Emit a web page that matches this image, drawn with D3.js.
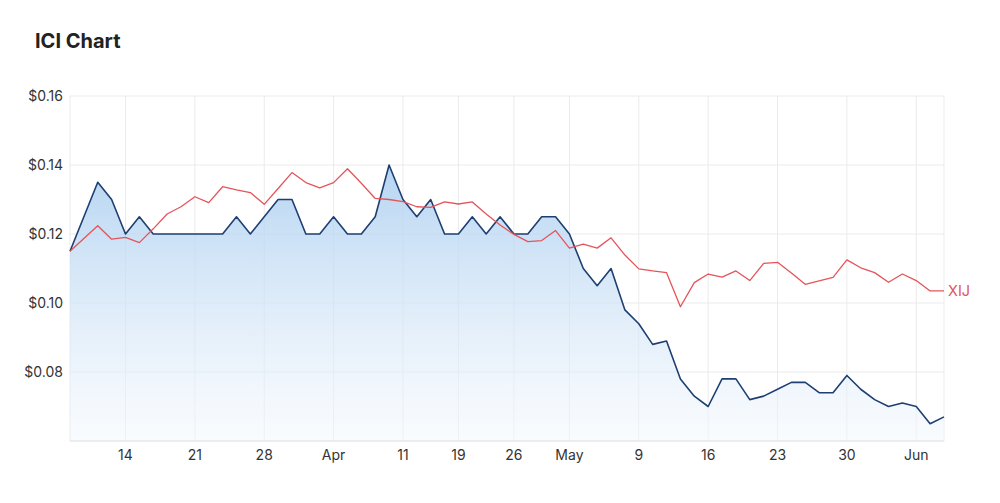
<!DOCTYPE html>
<html>
<head>
<meta charset="utf-8">
<script src="https://cdn.jsdelivr.net/npm/d3@7"></script>
<style>
  body { margin: 0; background: #fff; font-family: Inter, "Noto Sans", sans-serif; }
</style>
</head>
<body>
<div id="chart-area"></div>
<script>
// trading days, Mar 8 - Jun 8 2022
var dates = [
  "2022-03-08","2022-03-09","2022-03-10","2022-03-11",
  "2022-03-14","2022-03-15","2022-03-16","2022-03-17","2022-03-18",
  "2022-03-21","2022-03-22","2022-03-23","2022-03-24","2022-03-25",
  "2022-03-28","2022-03-29","2022-03-30","2022-03-31","2022-04-01",
  "2022-04-04","2022-04-05","2022-04-06","2022-04-07","2022-04-08",
  "2022-04-11","2022-04-12","2022-04-13","2022-04-14",
  "2022-04-19","2022-04-20","2022-04-21","2022-04-22",
  "2022-04-26","2022-04-27","2022-04-28","2022-04-29",
  "2022-05-02","2022-05-03","2022-05-04","2022-05-05","2022-05-06",
  "2022-05-09","2022-05-10","2022-05-11","2022-05-12","2022-05-13",
  "2022-05-16","2022-05-17","2022-05-18","2022-05-19","2022-05-20",
  "2022-05-23","2022-05-24","2022-05-25","2022-05-26","2022-05-27",
  "2022-05-30","2022-05-31","2022-06-01","2022-06-02","2022-06-03",
  "2022-06-06","2022-06-07","2022-06-08"
];

var iciPrices = [
  0.115, 0.125, 0.135, 0.13,
  0.12, 0.125, 0.12, 0.12, 0.12,
  0.12, 0.12, 0.12, 0.125, 0.12,
  0.125, 0.13, 0.13, 0.12, 0.12,
  0.125, 0.12, 0.12, 0.125, 0.14,
  0.13, 0.125, 0.13, 0.12,
  0.12, 0.125, 0.12, 0.125,
  0.12, 0.12, 0.125, 0.125,
  0.12, 0.11, 0.105, 0.11, 0.098,
  0.094, 0.088, 0.089, 0.078, 0.073,
  0.070, 0.078, 0.078, 0.072, 0.073,
  0.075, 0.077, 0.077, 0.074, 0.074,
  0.079, 0.075, 0.072, 0.070, 0.071,
  0.070, 0.065, 0.067
];

var xijPrices = [
  0.115, 0.1187, 0.1224, 0.1185,
  0.119, 0.1175, 0.1215, 0.1258, 0.1279,
  0.1308, 0.1291, 0.1337, 0.1328, 0.1320,
  0.1286, 0.1332, 0.1378, 0.1349, 0.1334,
  0.1349, 0.1389, 0.1347, 0.1303, 0.1300,
  0.1294, 0.1279, 0.1277, 0.1293,
  0.1287, 0.1293, 0.1258, 0.1226,
  0.1199, 0.1178, 0.1181, 0.1210,
  0.1159, 0.1171, 0.1159, 0.1189, 0.1139,
  0.1099, 0.1093, 0.1088, 0.0989, 0.1059,
  0.1084, 0.1075, 0.1093, 0.1065, 0.1115,
  0.1118, 0.1087, 0.1054, 0.1064, 0.1074,
  0.1125, 0.1102, 0.1088, 0.1060, 0.1084,
  0.1065, 0.1035, 0.1035
];

var tickDates = ["2022-03-14","2022-03-21","2022-03-28","2022-04-04","2022-04-11","2022-04-19",
                 "2022-04-26","2022-05-02","2022-05-09","2022-05-16","2022-05-23","2022-05-30","2022-06-06"];
var tickLabels = ["14","21","28","Apr","11","19","26","May","9","16","23","30","Jun"];
var yTicks = [0.08, 0.10, 0.12, 0.14, 0.16];

var width = 1000;
var height = 503;
var plot = {left: 70, right: 944, top: 96, bottom: 441};

var svg = d3.select("#chart-area")
  .append("svg")
  .attr("width", width)
  .attr("height", height);

var x = d3.scalePoint()
  .domain(dates)
  .range([plot.left, plot.right]);

var y = d3.scaleLinear()
  .domain([0.06, 0.16])
  .range([plot.bottom, plot.top]);

var defs = svg.append("defs");
var grad = defs.append("linearGradient")
  .attr("id", "areaGrad")
  .attr("x1", 0).attr("y1", 0)
  .attr("x2", 0).attr("y2", 1);
grad.append("stop").attr("offset", "0%").attr("stop-color", "#a9cdef").attr("stop-opacity", 0.85);
grad.append("stop").attr("offset", "100%").attr("stop-color", "#f3f8fd").attr("stop-opacity", 0.5);

// gridlines
svg.append("g")
  .selectAll("line")
  .data(yTicks)
  .enter().append("line")
  .attr("x1", plot.left).attr("x2", plot.right)
  .attr("y1", (d) => y(d)).attr("y2", (d) => y(d))
  .attr("stroke", "#ebebeb");

svg.append("g")
  .selectAll("line")
  .data([dates[0]].concat(tickDates, [dates[dates.length - 1]]))
  .enter().append("line")
  .attr("x1", (d) => x(d)).attr("x2", (d) => x(d))
  .attr("y1", plot.top).attr("y2", plot.bottom)
  .attr("stroke", "#ebebeb");

var iciData = dates.map((d, i) => ({date: d, value: iciPrices[i]}));
var xijData = dates.map((d, i) => ({date: d, value: xijPrices[i]}));

var area = d3.area()
  .x((d) => x(d.date))
  .y0(plot.bottom)
  .y1((d) => y(d.value));

var line = d3.line()
  .x((d) => x(d.date))
  .y((d) => y(d.value));

svg.append("path")
  .datum(iciData)
  .attr("d", area)
  .attr("fill", "url(#areaGrad)");

svg.append("path")
  .datum(iciData)
  .attr("d", line)
  .attr("fill", "none")
  .attr("stroke", "#1d3f72")
  .attr("stroke-width", 1.6)
  .attr("stroke-linejoin", "round");

svg.append("path")
  .datum(xijData)
  .attr("d", line)
  .attr("fill", "none")
  .attr("stroke", "#e4545a")
  .attr("stroke-width", 1.3)
  .attr("stroke-linejoin", "round");

svg.append("text")
  .attr("x", plot.right + 4)
  .attr("y", y(xijPrices[xijPrices.length - 1]))
  .attr("dy", "0.35em")
  .attr("font-size", "14.5px")
  .attr("fill", "#e4545a")
  .text("XIJ");

// x axis
svg.append("line")
  .attr("x1", plot.left).attr("x2", plot.right)
  .attr("y1", plot.bottom).attr("y2", plot.bottom)
  .attr("stroke", "#dcdcdc");

svg.append("g")
  .selectAll("text")
  .data(tickDates)
  .enter().append("text")
  .attr("x", (d) => x(d))
  .attr("y", 460)
  .attr("text-anchor", "middle")
  .attr("font-size", "14px")
  .attr("fill", "#333")
  .text((d, i) => tickLabels[i]);

// y axis labels
svg.append("g")
  .selectAll("text")
  .data(yTicks)
  .enter().append("text")
  .attr("x", 63)
  .attr("y", (d) => y(d))
  .attr("dy", "0.35em")
  .attr("text-anchor", "end")
  .attr("font-size", "14px")
  .attr("fill", "#333")
  .text((d) => d3.format("$.2f")(d));

svg.append("text")
  .attr("x", 35)
  .attr("y", 48)
  .attr("font-size", "20px")
  .attr("font-weight", "bold")
  .attr("fill", "#222")
  .text("ICI Chart");
</script>
</body>
</html>
